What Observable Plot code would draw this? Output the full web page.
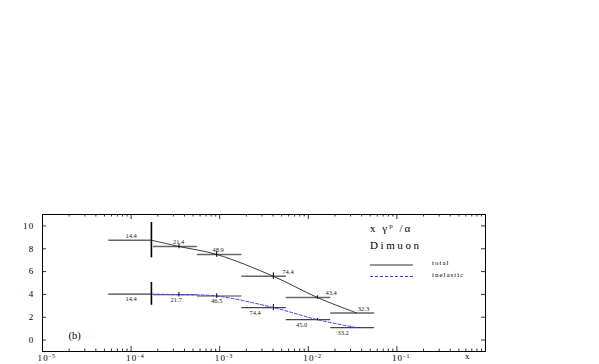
<!DOCTYPE html>
<html><head><meta charset="utf-8">
<script src="https://cdn.jsdelivr.net/npm/d3@7"></script>
<script src="https://cdn.jsdelivr.net/npm/@observablehq/plot@0.6"></script>
<style>
body{margin:0;background:#fff}
svg{font-family:"Liberation Serif",serif}
</style>
</head><body><div id="chart"></div>
<script>
// ---- data ----
const binLo = [5.6e-5, 1.79e-4, 5.6e-4, 1.78e-3, 5.65e-3, 1.79e-2];
const binHi = [1.7e-4, 5.6e-4, 1.78e-3, 5.65e-3, 1.79e-2, 5.6e-2];
const xPoint = [1.695e-4, 3.47e-4, 9.25e-4, 4.03e-3, 1.265e-2, 3.51e-2];
const totalVal = [8.75, 8.2, 7.5, 5.59, 3.73, 2.38];
const totalLo  = [7.2, 8.0, 7.25, 5.29, 3.58, 2.38];
const totalHi  = [10.3, 8.4, 7.75, 5.89, 3.88, 2.38];
const totalLabel = ["14.4", "21.4", "48.9", "74.4", "43.4", "32.3"];
const totalLabelX = [1.0e-4, 3.44e-4, 9.6e-4, 5.9e-3, 1.81e-2, 4.2e-2];
const inelVal = [4.03, 3.97, 3.86, 2.85, 1.79, 1.09];
const inelLo  = [3.05, 3.77, 3.66, 2.58, 1.69, 1.09];
const inelHi  = [5.05, 4.17, 4.06, 3.12, 1.89, 1.09];
const inelLabel = ["14.4", "21.7", "46.5", "74.4", "45.0", "33.2"];
const inelLabelX = [1.0e-4, 3.23e-4, 9.25e-4, 2.51e-3, 8.4e-3, 2.47e-2];
const xTicks = [1e-5, 1e-4, 1e-3, 1e-2, 1e-1];
const xTickLabels = ["10^-5", "10^-4", "10^-3", "10^-2", "10^-1"];
const yTicks = [0, 2, 4, 6, 8, 10];
const legendTitle = ["x γ", "p", " /α"];
const legendSub = "Dimuon";
const seriesNames = ["total", "inelastic"];
const panelLabel = "(b)";
const xAxisLabel = "x";

// ---- build tables ----
const total = binLo.map((_, i) => ({lo: binLo[i], hi: binHi[i], x: xPoint[i], v: totalVal[i],
  e0: totalLo[i], e1: totalHi[i], label: totalLabel[i], lx: totalLabelX[i], first: i === 0}));
const inel = binLo.map((_, i) => ({lo: binLo[i], hi: binHi[i], x: xPoint[i], v: inelVal[i],
  e0: inelLo[i], e1: inelHi[i], label: inelLabel[i], lx: inelLabelX[i], first: i === 0}));
const minorX = [];
for (let e = -5; e < 0; e++) for (let m = 2; m <= 9; m++) minorX.push(m * Math.pow(10, e));

const W = 599, H = 364;
const mt = 214, mb = 13, ml = 42, mr = 114;
const fw = W - ml - mr, fh = H - mt - mb;
const blue = "#3a3aff";
const barColor = "#666";
const serif = "Liberation Serif, serif";

const svg = Plot.plot({
  width: W, height: H,
  marginTop: mt, marginBottom: mb, marginLeft: ml, marginRight: mr,
  style: {fontFamily: serif, background: "#fff", overflow: "visible", color: "#000"},
  x: {type: "log", domain: [1e-5, 1]},
  y: {domain: [-1, 11]},
  marks: [
    // ticks (inward)
    Plot.tickX(xTicks, {x: d => d, insetTop: fh - 5, stroke: "#000", strokeWidth: 0.8}),
    Plot.tickX(minorX, {x: d => d, insetTop: fh - 2.5, stroke: "#000", strokeWidth: 0.8}),
    Plot.tickX(xTicks, {x: d => d, insetBottom: fh - 5, stroke: "#000", strokeWidth: 0.8}),
    Plot.tickX(minorX, {x: d => d, insetBottom: fh - 2.5, stroke: "#000", strokeWidth: 0.8}),
    Plot.tickY(yTicks, {y: d => d, insetRight: fw - 4, stroke: "#000", strokeWidth: 0.8}),
    Plot.tickY(yTicks, {y: d => d, insetLeft: fw - 4, stroke: "#000", strokeWidth: 0.8}),
    Plot.axisX(xTicks, {anchor: "bottom", tickSize: 0, tickPadding: 3, fontSize: 9, fill: "#000",
      tickFormat: d => xTickLabels[xTicks.indexOf(d)], label: null}),
    Plot.axisY(yTicks, {anchor: "left", tickSize: 0, tickPadding: 8, fontSize: 9, fill: "#000", label: null}),
    Plot.frame({stroke: "#000", strokeWidth: 1}),
    // horizontal bin bars
    Plot.ruleY(total, {x1: "lo", x2: "hi", y: "v", stroke: barColor, strokeWidth: 1.5}),
    Plot.ruleY(inel, {x1: "lo", x2: "hi", y: "v", stroke: "#444", strokeWidth: 1.2}),
    // curves
    Plot.line(total, {x: "x", y: "v", curve: "catmull-rom", stroke: "#222", strokeWidth: 0.9}),
    Plot.line(inel, {x: "x", y: "v", curve: "catmull-rom", stroke: blue, strokeWidth: 1, strokeDasharray: "3,2"}),
    // vertical error bars
    Plot.ruleX(total.filter(d => d.e1 > d.e0), {x: "x", y1: "e0", y2: "e1", stroke: "#000",
      strokeWidth: d => d.first ? 1.6 : 1}),
    Plot.ruleX(inel.filter(d => d.e1 > d.e0), {x: "x", y1: "e0", y2: "e1", stroke: "#000",
      strokeWidth: d => d.first ? 1.6 : 1}),
    // value labels
    Plot.text(total, {x: "lx", y: "v", text: "label", dy: -4.5, fontSize: 6.5, fill: "#222",
      style: {letterSpacing: "0.9px"}}),
    Plot.text(inel, {x: "lx", y: "v", text: "label", dy: 5, fontSize: 6.5, fill: "#222",
      style: {letterSpacing: "0.9px"}}),
    // panel label
    Plot.text([panelLabel], {text: d => d, frameAnchor: "bottom-left", dx: 26, dy: -13, fontSize: 10.5,
      textAnchor: "start", fill: "#000", style: {letterSpacing: "1px"}}),
    // x axis label
    Plot.text([xAxisLabel], {text: d => d, frameAnchor: "bottom-right", dx: -16, dy: 7, fontSize: 9,
      fill: "#000"})
  ]
});

// superscript tick labels
d3.select(svg).selectAll('g[aria-label="x-axis tick label"] text').each(function() {
  const t = d3.select(this);
  const parts = t.text().split("^");
  t.text(null).attr("text-anchor", "start").attr("dx", "-5").style("letter-spacing", "1.2px");
  t.append("tspan").text(parts[0]);
  t.append("tspan").attr("dy", "-3").attr("font-size", "6").text(parts[1]);
});
d3.select(svg).selectAll('g[aria-label="y-axis tick label"] text').style("letter-spacing", "1.2px");

// legend (inside frame, top-right)
const g = d3.select(svg).append("g").attr("font-family", serif).attr("fill", "#000").attr("text-anchor", "start");
const lx = 370;
const tt = g.append("text").attr("x", lx).attr("y", 232).attr("font-size", 11).style("letter-spacing", "2px");
tt.append("tspan").text(legendTitle[0]);
tt.append("tspan").attr("dy", -4).attr("font-size", 7).text(legendTitle[1]);
tt.append("tspan").attr("dy", 4).text(legendTitle[2]);
g.append("text").attr("x", lx).attr("y", 249).attr("font-size", 11).style("letter-spacing", "2.6px").text(legendSub);
g.append("line").attr("x1", lx).attr("x2", 413).attr("y1", 265).attr("y2", 265).attr("stroke", "#333").attr("stroke-width", 1);
g.append("line").attr("x1", lx).attr("x2", 413).attr("y1", 276.5).attr("y2", 276.5).attr("stroke", blue)
  .attr("stroke-width", 1).attr("stroke-dasharray", "3,2");
g.append("text").attr("x", 432).attr("y", 265).attr("font-size", 7).style("letter-spacing", "1px").text(seriesNames[0]);
g.append("text").attr("x", 432).attr("y", 277).attr("font-size", 7).style("letter-spacing", "1px").text(seriesNames[1]);

document.getElementById("chart").appendChild(svg);
</script>
</body></html>
